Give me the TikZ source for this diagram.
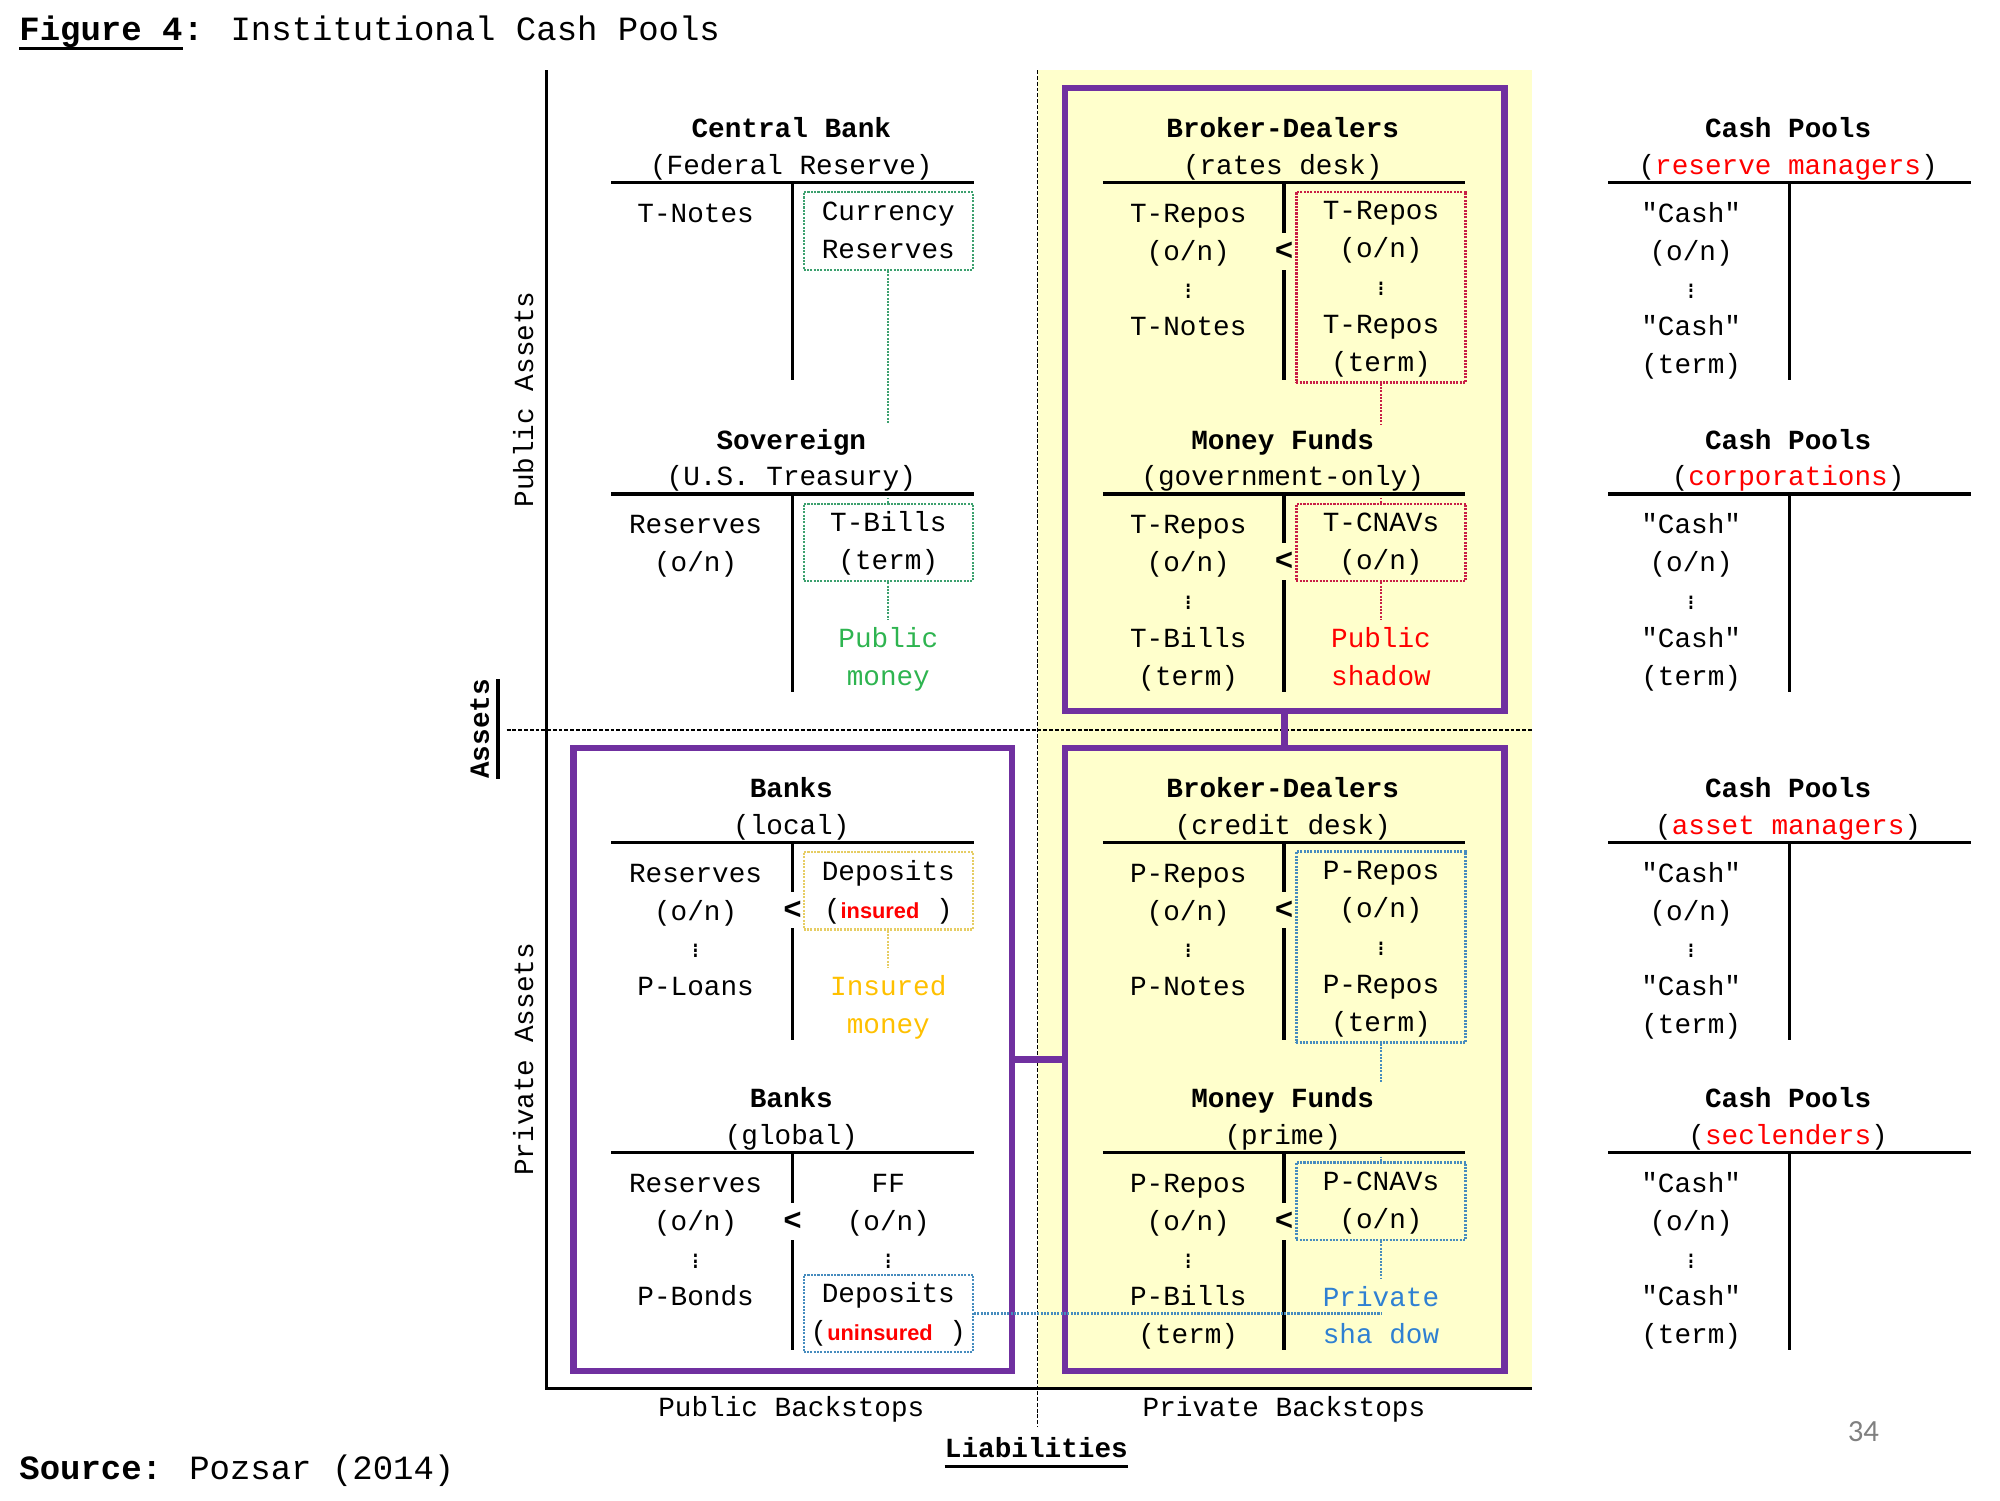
\documentclass[tikz,border=0pt]{standalone}
\usepackage{fontspec}
\setmainfont{Liberation Mono}[Ligatures=TeXOff]
\newfontfamily\sansf{Liberation Sans}
\newfontfamily\calib{Carlito}

\definecolor{cashbg}{RGB}{255,255,204}
\definecolor{purp}{RGB}{112,48,160}
\definecolor{pubgreen}{RGB}{46,180,80}
\definecolor{boxgreen}{RGB}{60,160,110}
\definecolor{shred}{RGB}{255,0,0}
\definecolor{boxred}{RGB}{200,30,70}
\definecolor{insgold}{RGB}{255,192,0}
\definecolor{boxgold}{RGB}{230,205,100}
\definecolor{privblue}{RGB}{47,128,210}
\definecolor{boxblue}{RGB}{70,140,190}

\newcommand{\vdts}{{\fontsize{18}{18}\selectfont\vdots}}
\newcommand{\fst}{\rule{0pt}{22pt}}

\tikzset{
  every node/.style={font=\fontsize{21.6}{29.5}\selectfont, inner sep=0pt},
  ttl/.style={font=\fontsize{21.6}{29.5}\selectfont\bfseries, text height=15pt, text depth=5pt, inner ysep=4.5pt},
  sub/.style={ttl, font=\fontsize{21.6}{29.5}\selectfont},
  entry/.style={align=center, anchor=north, execute at end node=\strut},
  tbox/.style={line width=1.8pt, dash pattern=on 1.6pt off 1pt, minimum width=132pt, minimum height=60pt,
    align=center, execute at end node=\strut},
  con/.style={line width=1.8pt, dash pattern=on 1.6pt off 1pt},
  lt/.style={fill=white, inner xsep=1pt, inner ysep=7pt, font=\fontsize{24}{29.5}\selectfont\bfseries},
  pframe/.style={draw=purp, line width=5pt},
  pline/.style={draw=purp, line width=5pt},
  axis/.style={line width=2.6pt},
  tline/.style={line width=2.6pt},
  dashline/.style={line width=1.3pt, dash pattern=on 3pt off 1.5pt}
}

\begin{document}
\begin{tikzpicture}[x=0.9955pt,y=-0.9955pt]
  \useasboundingbox (0,0) rectangle (1567,1175.3);
  \fill[cashbg] (813,55) rectangle (1200,1088);
  \draw[axis] (428,55) -- (428,1088) -- (1200,1088);
  \draw[dashline] (813,55) -- (813,1118);
  \draw[dashline] (397,572) -- (1200,572);

  % heading and source
  \node[anchor=base west, font=\fontsize{26.5}{30}\selectfont\bfseries] (fig) at (15,32) {Figure 4};
  \node[anchor=base west, font=\fontsize{26.5}{30}\selectfont] (figt) at (fig.base east) {\textbf{:} Institutional Cash Pools};
  \draw[line width=3pt] ([yshift=-6pt]fig.base west) -- ([yshift=-6pt]fig.base east);
  \node[anchor=base west, font=\fontsize{26.5}{30}\selectfont] (src) at (15,1159) {\textbf{Source:} Pozsar (2014)};
  \node[font=\calib\fontsize{24}{24}\selectfont, text=gray] (pg) at (1460,1122) {34};

  % axes labels
  \node[rotate=90, font=\fontsize{21.6}{29.5}\selectfont\bfseries] (assets) at (376,571) {Assets};
  \draw[line width=2.5pt] ([xshift=7pt]assets.base west) -- ([xshift=7pt]assets.base east);
  \node[rotate=90] (puba) at (410,313) {Public Assets};
  \node[rotate=90] (priva) at (410,830) {Private Assets};
  \node (pubbs) at (620,1104) {Public Backstops};
  \node (privbs) at (1006,1104) {Private Backstops};
  \node[font=\fontsize{21.6}{29.5}\selectfont\bfseries] (liab) at (812,1134) {Liabilities};
  \draw[line width=2.5pt] ([yshift=-7pt]liab.base west) -- ([yshift=-7pt]liab.base east);

  % purple frames
  \node[pframe, minimum width=343pt, minimum height=486pt] (fr1) at (1006.5,313) {};
  \node[pframe, minimum width=343pt, minimum height=486pt] (fr2) at (1006.5,830) {};
  \node[pframe, minimum width=342pt, minimum height=486pt] (fr3) at (621,830) {};
  \draw[pline] (fr1.south) -- (fr2.north);
  \draw[pline] (fr3.east) -- (fr2.west);

  % T-accounts
  \foreach \nm/\x/\ly/\tname/\tsub in {
      cb/621/143/Central Bank/(Federal Reserve),
      bdr/1006/143/Broker-Dealers/(rates desk),
      cpa/1402/143/Cash Pools/(\textcolor{shred}{reserve managers}),
      sov/621/387/Sovereign/(U.S. Treasury),
      mfg/1006/387/Money Funds/(government-only),
      cpb/1402/387/Cash Pools/(\textcolor{shred}{corporations}),
      bkl/621/660/Banks/(local),
      bdc/1006/660/Broker-Dealers/(credit desk),
      cpc/1402/660/Cash Pools/(\textcolor{shred}{asset managers}),
      bkg/621/903/Banks/(global),
      mfp/1006/903/Money Funds/(prime),
      cpd/1402/903/Cash Pools/(\textcolor{shred}{seclenders})}{
    \node[ttl] (\nm T) at (\x-1,\ly-40) {\tname};
    \node[sub] (\nm S) at (\x-1,\ly-11.5) {\tsub};
    \draw[tline] (\x-142,\ly) -- (\x+142,\ly);
    \draw[tline] (\x,\ly) -- (\x,\ly+155);
  }

  % boxed liabilities
  \node[tbox, draw=boxgreen] (cr) at (696,181) {\fst Currency\\Reserves};
  \node[tbox, draw=boxgreen] (tb) at (696,425) {\fst T-Bills\\(term)};
  \node[tbox, draw=boxred, minimum height=148pt] (trp) at (1082,225) {\fst T-Repos\\(o/n)\\\vdts\\T-Repos\\(term)};
  \node[tbox, draw=boxred] (tcn) at (1082,425) {\fst T-CNAVs\\(o/n)};
  \node[tbox, draw=boxgold] (dins) at (696,698) {\fst Deposits\\(\textcolor{shred}{\sansf\bfseries\fontsize{17}{20}\selectfont insured} )};
  \node[tbox, draw=boxblue, minimum height=148pt] (prp) at (1082,742) {\fst P-Repos\\(o/n)\\\vdts\\P-Repos\\(term)};
  \node[tbox, draw=boxblue] (pcn) at (1082,941) {\fst P-CNAVs\\(o/n)};
  \node[tbox, draw=boxblue] (duns) at (696,1029) {\fst Deposits\\(\textcolor{shred}{\sansf\bfseries\fontsize{17}{20}\selectfont uninsured} )};

  % money labels
  \node[entry, text=pubgreen] (pubm) at (696,485) {\fst Public\\money};
  \node[entry, text=shred] (pubsh) at (1082,485) {\fst Public\\shadow};
  \node[entry, text=insgold] (insm) at (696,758) {\fst Insured\\money};
  \node[entry, text=privblue] (privsh) at (1082,1001) {\fst Private\\sha dow};

  % dotted links
  \draw[con, boxgreen] (cr) -- (cr |- sovT.north);
  \draw[con, boxgreen] (tb) -- (tb |- sovS.south);
  \draw[con, boxgreen] (tb) -- (pubm);
  \draw[con, boxred] (trp) -- (trp |- mfgT.north);
  \draw[con, boxred] (tcn) -- (tcn |- mfgS.south);
  \draw[con, boxred] (tcn) -- (pubsh);
  \draw[con, boxgold] (dins) -- (insm);
  \draw[con, boxblue] (prp) -- (prp |- mfpT.north);
  \draw[con, boxblue] (pcn) -- (pcn |- mfpS.south);
  \draw[con, boxblue] (pcn) -- (privsh);
  \draw[con, boxblue] (duns) -- (duns -| pcn);

  % asset columns
  \node[entry] (cbL) at (545,152) {\fst T-Notes};
  \node[entry] (bdrL) at (931,152) {\fst T-Repos\\(o/n)\\\vdts\\T-Notes};
  \node[entry] (sovL) at (545,396) {\fst Reserves\\(o/n)};
  \node[entry] (mfgL) at (931,396) {\fst T-Repos\\(o/n)\\\vdts\\T-Bills\\(term)};
  \node[entry] (bklL) at (545,669) {\fst Reserves\\(o/n)\\\vdts\\P-Loans};
  \node[entry] (bdcL) at (931,669) {\fst P-Repos\\(o/n)\\\vdts\\P-Notes};
  \node[entry] (bkgL) at (545,912) {\fst Reserves\\(o/n)\\\vdts\\P-Bonds};
  \node[entry] (bkgR) at (696,912) {\fst FF\\(o/n)\\\vdts};
  \node[entry] (mfpL) at (931,912) {\fst P-Repos\\(o/n)\\\vdts\\P-Bills\\(term)};
  \foreach \nm/\ly in {cpa/143, cpb/387, cpc/660, cpd/903}
    \node[entry] (\nm L) at (1325,\ly+9) {\fst"Cash"\\(o/n)\\\vdts\\"Cash"\\(term)};

  % seniority marks
  \node[lt, fill=cashbg] (lt1) at (1006,197) {<};
  \node[lt, fill=cashbg] (lt2) at (1006,440) {<};
  \node[lt] (lt3) at (621,713) {<};
  \node[lt, fill=cashbg] (lt4) at (1006,713) {<};
  \node[lt] (lt5) at (621,957) {<};
  \node[lt, fill=cashbg] (lt6) at (1006,957) {<};
\end{tikzpicture}
\end{document}
